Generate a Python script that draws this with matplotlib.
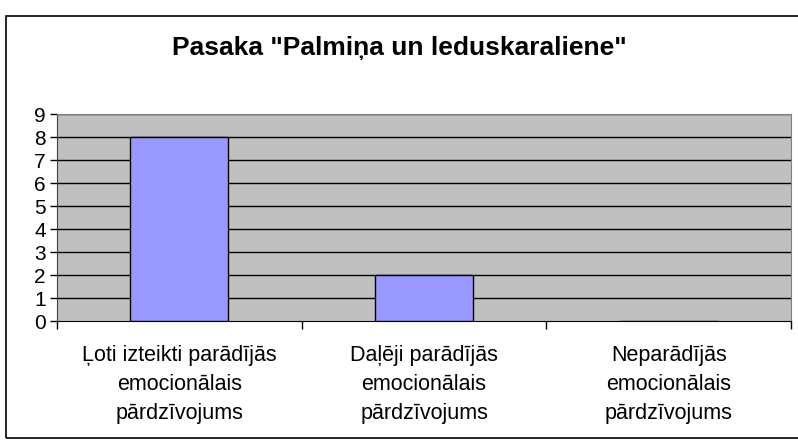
import matplotlib.pyplot as plt
import numpy as np
from matplotlib.patches import Rectangle

plt.rcParams['font.family'] = ['Liberation Sans', 'DejaVu Sans']

title = 'Pasaka "Palmiņa un leduskaraliene"'
categories = ['Ļoti izteikti parādījās\nemocionālais\npārdzīvojums',
              'Daļēji parādījās\nemocionālais\npārdzīvojums',
              'Neparādījās\nemocionālais\npārdzīvojums']
values = [8, 2, 0]
yticks = list(range(0, 10))

fig = plt.figure(figsize=(7.98, 4.44), dpi=100)
# outer chart border (right edge falls outside the image)
fig.patches.append(Rectangle((6 / 798, 6 / 444), 1.2, 1 - 22 / 444,
                             transform=fig.transFigure, fill=False,
                             edgecolor='black', linewidth=1.2))

ax = fig.add_axes([57 / 798, 1 - 321 / 444, 734 / 798, 207 / 444])
ax.set_facecolor('#C0C0C0')
x = np.arange(len(categories))
ax.bar(x, values, width=0.4, color='#9999FF', edgecolor='black',
       linewidth=1, zorder=3)
ax.set_xlim(-0.5, 2.5)
ax.set_ylim(0, 9)
ax.set_yticks(yticks)
ax.set_yticklabels([str(t) for t in yticks], fontsize=15)
for t in yticks[1:]:
    ax.axhline(t, color='black', linewidth=1, zorder=1)

ax.set_xticks(x)
ax.set_xticklabels(categories, fontsize=15.5, linespacing=1.5)
ax.tick_params(axis='x', length=0, pad=17)
ax.set_xticks(np.arange(-0.5, 3.0, 1.0), minor=True)
ax.tick_params(axis='x', which='minor', length=6, width=1, color='black')
ax.tick_params(axis='y', length=5, width=1, color='black', pad=3)

for side in ['top', 'right']:
    ax.spines[side].set_color('#808080')
ax.spines['left'].set_color('#404040')
ax.spines['bottom'].set_color('black')

fig.text(0.5, 1 - 48 / 444, title, ha='center', va='center',
         fontsize=19, fontweight='bold')

fig.savefig('out.png', dpi=100)
